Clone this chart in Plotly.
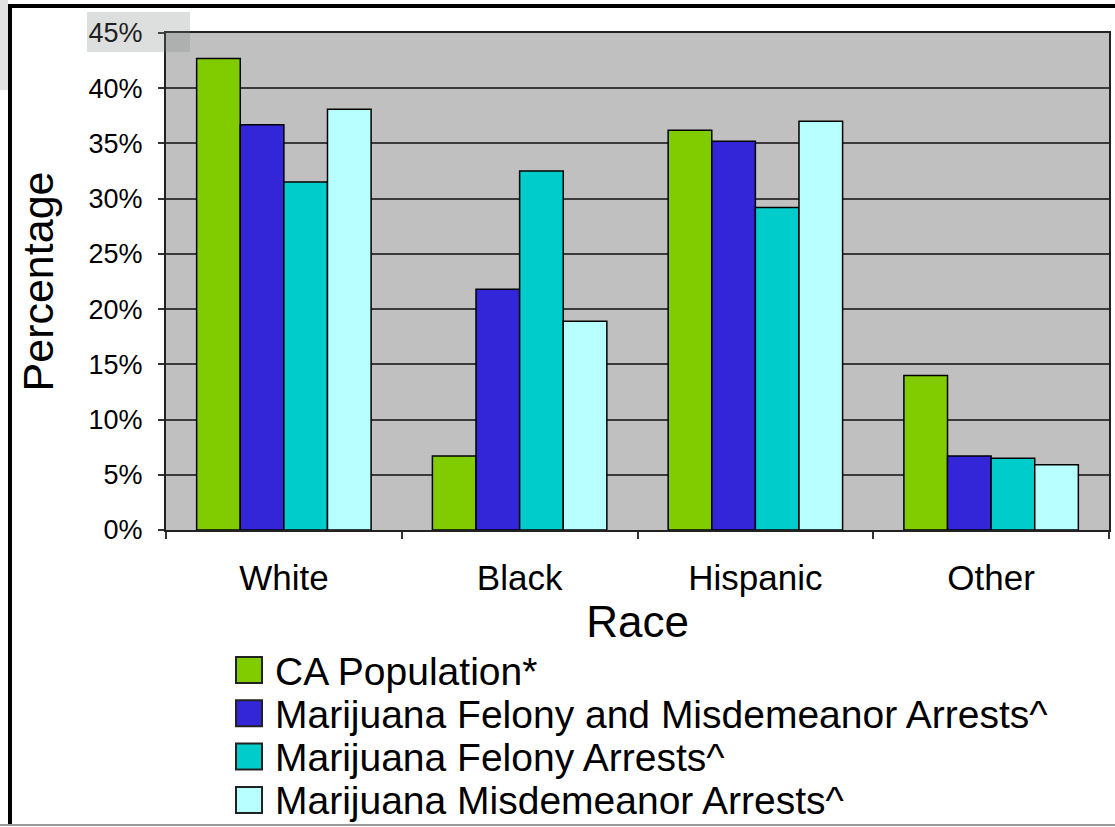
import plotly.graph_objects as go

categories = ["White", "Black", "Hispanic", "Other"]
series_names = [
    "CA Population*",
    "Marijuana Felony and Misdemeanor Arrests^",
    "Marijuana Felony Arrests^",
    "Marijuana Misdemeanor Arrests^",
]
ca_population = [42.7, 6.7, 36.2, 14.0]
felony_and_misd = [36.7, 21.8, 35.2, 6.7]
felony = [31.5, 32.5, 29.2, 6.5]
misdemeanor = [38.1, 18.9, 37.0, 5.9]
series_values = [ca_population, felony_and_misd, felony, misdemeanor]
colors = ["#80cc00", "#3326d9", "#00cccc", "#b8ffff"]

y_tickvals = [0, 5, 10, 15, 20, 25, 30, 35, 40, 45]
y_ticktext = ["0%", "5%", "10%", "15%", "20%", "25%", "30%", "35%", "40%", "45%"]

W, H = 1115, 827
L, R, T, B = 166, 1109, 33, 530
FONT = "Liberation Sans, Arial, sans-serif"


def px_x(p):
    return (p - L) / (R - L)


def px_y(p):
    return (B - p) / (B - T)


fig = go.Figure()
for name, vals, col in zip(series_names, series_values, colors):
    fig.add_trace(go.Bar(
        x=categories, y=vals, name=name, showlegend=False,
        marker=dict(color=col, line=dict(color="#000000", width=1.5)),
    ))

shapes = []
annotations = []
# manual legend with large swatches
for i, (name, col) in enumerate(zip(series_names, colors)):
    cy = 670 + i * 43.3
    shapes.append(dict(type="rect", xref="paper", yref="paper",
                       x0=px_x(236), x1=px_x(262), y0=px_y(cy - 13), y1=px_y(cy + 13),
                       fillcolor=col, line=dict(color="#222222", width=2)))
    annotations.append(dict(xref="paper", yref="paper", x=px_x(273), y=px_y(cy + 1),
                            xanchor="left", yanchor="middle", showarrow=False,
                            text=name, font=dict(family=FONT, size=39, color="#000000")))

# outer frame
shapes.append(dict(type="rect", xref="paper", yref="paper",
                   x0=px_x(8), x1=px_x(1115), y0=px_y(8), y1=px_y(4),
                   fillcolor="#000000", line=dict(width=0)))
shapes.append(dict(type="rect", xref="paper", yref="paper",
                   x0=px_x(8), x1=px_x(12), y0=px_y(826), y1=px_y(4),
                   fillcolor="#000000", line=dict(width=0)))
shapes.append(dict(type="line", xref="paper", yref="paper",
                   x0=px_x(0), x1=px_x(1115), y0=px_y(825), y1=px_y(825),
                   line=dict(color="#9a9a9a", width=2)))
# faint scan shading near the top-left
shapes.append(dict(type="rect", xref="paper", yref="paper",
                   x0=px_x(87), x1=px_x(190), y0=px_y(52), y1=px_y(12),
                   fillcolor="rgba(120,128,124,0.25)", line=dict(width=0), layer="above"))
shapes.append(dict(type="rect", xref="paper", yref="paper",
                   x0=px_x(0), x1=px_x(8), y0=px_y(90), y1=px_y(0),
                   fillcolor="#e2e2e2", line=dict(width=0), layer="below"))

fig.update_layout(
    width=W, height=H,
    margin=dict(l=L, r=W - R, t=T, b=H - B, pad=0),
    paper_bgcolor="#ffffff",
    plot_bgcolor="#c0c0c0",
    barmode="group",
    bargap=0.26,
    bargroupgap=0,
    font=dict(family=FONT, color="#000000"),
    shapes=shapes,
    annotations=annotations,
    xaxis=dict(
        type="category",
        tickson="boundaries",
        ticks="outside", ticklen=7, tickwidth=1.5, tickcolor="#333333",
        tickfont=dict(family=FONT, size=35, color="#000000"),
        ticklabelstandoff=16,
        showline=True, linecolor="#222222", linewidth=2, mirror=True,
        showgrid=False,
        title=dict(text="Race", font=dict(family=FONT, size=44, color="#000000"), standoff=8),
        automargin=False,
    ),
    yaxis=dict(
        range=[0, 45],
        tickvals=y_tickvals, ticktext=y_ticktext,
        ticks="outside", ticklen=6, tickwidth=1.5, tickcolor="#333333",
        tickfont=dict(family=FONT, size=27, color="#000000"),
        ticklabelstandoff=10,
        showline=True, linecolor="#222222", linewidth=2, mirror=True,
        showgrid=True, gridcolor="#3a3a3a", gridwidth=1.5,
        zeroline=False,
        title=dict(text="Percentage", font=dict(family=FONT, size=43, color="#000000"), standoff=22),
        automargin=False,
    ),
)

fig.write_html(
    "out.html",
    config={"displayModeBar": False},
    post_script="document.body.style.margin='0';document.body.style.overflow='hidden';",
)
